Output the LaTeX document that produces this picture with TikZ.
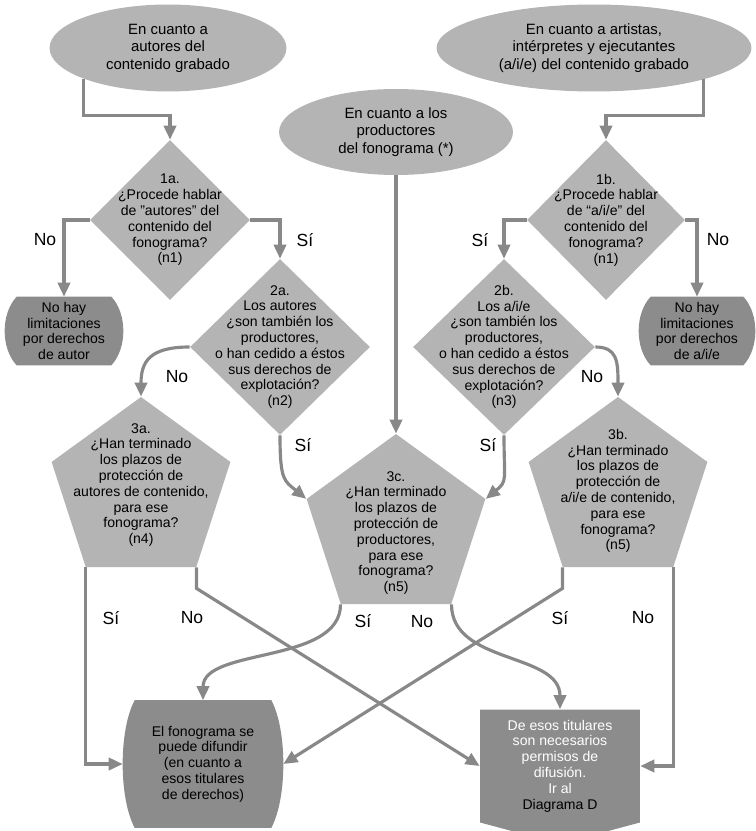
\documentclass[tikz,border=0pt]{standalone}
\usepackage{fontspec}
\setmainfont{Liberation Sans}
\usetikzlibrary{calc, positioning, arrows.meta, shapes.geometric, shapes.symbols, backgrounds}
\definecolor{light}{HTML}{B4B4B4}
\definecolor{dark}{HTML}{8C8C8C}
\definecolor{wire}{HTML}{888888}

\begin{document}
\begin{tikzpicture}[x=0.02cm, y=-0.02cm,
  txt/.style={font=\fontsize{8}{9}\selectfont, align=center},
  lab/.style={font=\fontsize{10}{12}\selectfont},
  ell/.style={ellipse, fill=light, inner sep=0pt, align=center, font=\fontsize{8.5}{10}\selectfont},
  dia/.style={diamond, fill=light, inner sep=0pt},
  pent/.style={regular polygon, regular polygon sides=5, fill=light, inner sep=0pt, minimum size=3.76cm},
  term/.style={rectangle, inner sep=0pt, align=center, font=\fontsize{8}{9}\selectfont},
  sig/.style={signal, signal to=south, signal pointer angle=150, fill=dark, inner sep=0pt, align=center, font=\fontsize{8}{9}\selectfont},
  conn/.style={draw=wire, line width=1.8pt, -{Triangle[length=8pt, width=7pt]}},
  link/.style={draw=wire, line width=1.8pt}]
  \useasboundingbox (0,0) rectangle (756,831);

  % starting points
  \node[ell, minimum width=4.74cm, minimum height=1.74cm] (eA) at (168,48) {En cuanto a\\autores del\\contenido grabado};
  \node[ell, minimum width=6.3cm, minimum height=1.74cm] (eB) at (594,48) {En cuanto a artistas,\\intérpretes y ejecutantes\\(a/i/e) del contenido grabado};
  \node[ell, minimum width=4.68cm, minimum height=1.72cm] (eC) at (396,132) {En cuanto a los\\productores\\del fonograma (*)};

  % questions
  \node[dia, minimum width=3.2cm, minimum height=3.2cm] (d1a) at (170,220) {};
  \node[dia, minimum width=3.16cm, minimum height=3.2cm] (d1b) at (606,220) {};
  \node[dia, minimum width=3.6cm, minimum height=3.52cm] (d2a) at (280,347) {};
  \node[dia, minimum width=3.64cm, minimum height=3.52cm] (d2b) at (504,347) {};
  \node[pent] (p3a) at (141,491) {};
  \node[pent] (p3b) at (618,491) {};
  \node[pent] (p3c) at (396,528) {};

  \node[txt] (t1a) at (d1a) {1a.\\¿Procede hablar\\de "autores" del\\contenido del\\fonograma?\\(n1)};
  \node[txt] (t1b) at (d1b) {1b.\\¿Procede hablar\\de “a/i/e” del\\contenido del\\fonograma?\\(n1)};
  \node[txt] (t2a) at (d2a) {2a.\\Los autores\\¿son también los\\productores,\\o han cedido a éstos\\sus derechos de\\explotación?\\(n2)};
  \node[txt] (t2b) at (d2b) {2b.\\Los a/i/e\\¿son también los\\productores,\\o han cedido a éstos\\sus derechos de\\explotación?\\(n3)};
  \node[txt] (t3a) at ($(p3a)+(0,-6)$) {3a.\\¿Han terminado\\los plazos de\\protección de\\autores de contenido,\\para ese\\fonograma?\\(n4)};
  \node[txt] (t3b) at (p3b) {3b.\\¿Han terminado\\los plazos de\\protección de\\a/i/e de contenido,\\para ese\\fonograma?\\(n5)};
  \node[txt] (t3c) at ($(p3c)+(0,5)$) {3c.\\¿Han terminado\\los plazos de\\protección de\\productores,\\para ese\\fonograma?\\(n5)};

  % outcomes
  \node[term, minimum width=2.36cm, minimum height=1.36cm] (tA) at (64,331) {No hay\\limitaciones\\por derechos\\de autor};
  \node[term, minimum width=2.32cm, minimum height=1.36cm] (tB) at (697,331) {No hay\\limitaciones\\por derechos\\de a/i/e};
  \node[term, minimum width=3.2cm, minimum height=2.54cm] (tOK) at (203,764) {El fonograma se\\puede difundir\\(en cuanto a\\esos titulares\\de derechos)};
  \node[sig, minimum width=3.2cm, minimum height=2.54cm] (tD) at (560,766) {\textcolor{white}{De esos titulares}\\\textcolor{white}{son necesarios}\\\textcolor{white}{permisos de}\\\textcolor{white}{difusión.}\\\textcolor{white}{Ir al}\\Diagrama D};

  % bulging sides of the end boxes
  \begin{scope}[on background layer]
    \fill[dark] ($(tA.north west)+(12,0)$) .. controls +(-16,17) and +(-16,-17) .. ($(tA.south west)+(12,0)$)
      -- ($(tA.south east)+(-12,0)$) .. controls +(16,-17) and +(16,17) .. ($(tA.north east)+(-12,0)$) -- cycle;
    \fill[dark] ($(tB.north west)+(12,0)$) .. controls +(-16,17) and +(-16,-17) .. ($(tB.south west)+(12,0)$)
      -- ($(tB.south east)+(-12,0)$) .. controls +(16,-17) and +(16,17) .. ($(tB.north east)+(-12,0)$) -- cycle;
    \fill[dark] ($(tOK.north west)+(12,0)$) .. controls +(-16,30) and +(-16,-30) .. ($(tOK.south west)+(12,0)$)
      -- ($(tOK.south east)+(-12,0)$) .. controls +(16,-30) and +(16,30) .. ($(tOK.north east)+(-12,0)$) -- cycle;
  \end{scope}

  % connectors
  \draw[conn] (eA.200) |- ($(d1a.north)+(0,-24)$) -- (d1a.north);
  \draw[conn] (eB.344) |- ($(d1b.north)+(0,-24)$) -- (d1b.north);
  \draw[conn] (eC.south) -- (p3c.corner 1);

  \draw[conn] (d1a.west) -| (tA.north);
  \draw[conn] (d1a.east) -| (d2a.north);
  \draw[conn] (d1b.west) -| (d2b.north);
  \draw[conn] (d1b.east) -| (tB.north);

  \draw[conn] (d2a.west) .. controls +(-40,0) and +(0,-35) .. (p3a.corner 1);
  \draw[conn] (d2a.south) .. controls +(0,45) and +(-22,-18) .. (p3c.corner 2);
  \draw[conn] (d2b.south) .. controls +(0,45) and +(22,-18) .. (p3c.corner 5);
  \draw[conn] (d2b.east) .. controls +(22,0) and +(0,-35) .. (p3b.corner 1);

  \draw[conn] (p3a.corner 3) |- (tOK.west);
  \draw[conn] (p3a.corner 4) -- ++(0,21) -- (tD.west);
  \draw[conn] (p3c.corner 3) .. controls +(0,60) and +(0,-53) .. (tOK.north);
  \draw[conn] (p3c.corner 4) .. controls +(0,60) and +(0,-57) .. (tD.north);
  \draw[conn] (p3b.corner 3) -- ++(0,21) -- (tOK.east);
  \draw[conn] (p3b.corner 4) |- (tD.east);

  % answers
  \node[lab] (l1aN) at (45,240) {No};
  \node[lab] (l1aS) at (305,240) {Sí};
  \node[lab] (l1bS) at (480,240) {Sí};
  \node[lab] (l1bN) at (718,240) {No};
  \node[lab] (l2aN) at (177,377) {No};
  \node[lab] (l2aS) at (303,445) {Sí};
  \node[lab] (l2bN) at (592,377) {No};
  \node[lab] (l2bS) at (488,445) {Sí};
  \node[lab] (l3aS) at (111,618) {Sí};
  \node[lab] (l3aN) at (192,618) {No};
  \node[lab] (l3cS) at (363,621) {Sí};
  \node[lab] (l3cN) at (422,622) {No};
  \node[lab] (l3bS) at (560,618) {Sí};
  \node[lab] (l3bN) at (643,618) {No};
\end{tikzpicture}
\end{document}
